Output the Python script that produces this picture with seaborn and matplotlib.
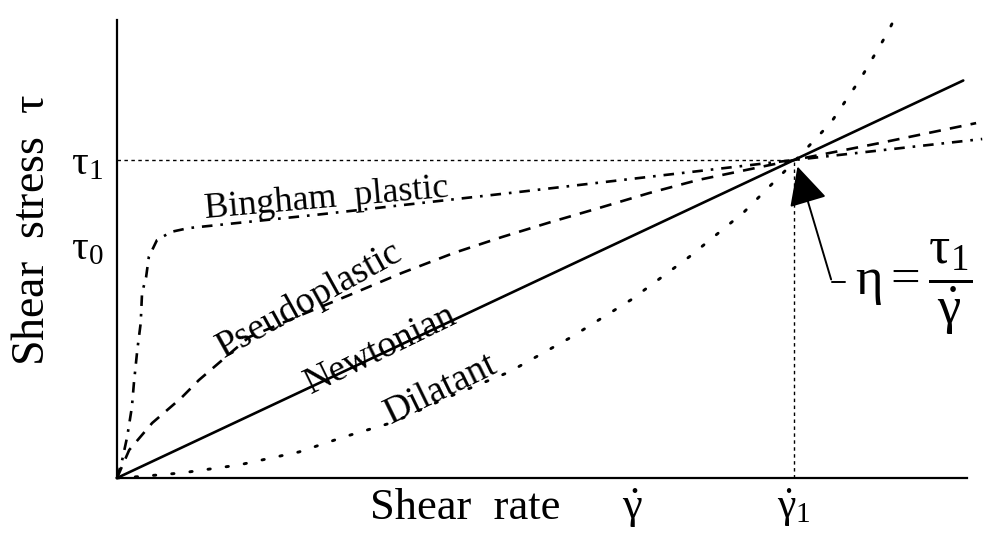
import numpy as np
import pandas as pd
import matplotlib
matplotlib.use("Agg")
import matplotlib.pyplot as plt
import seaborn as sns

# %% values read off the schematic (x in units of gamma_1, y in units of tau_1)

gamma1 = 1.0
tau1 = 1.0
tau0 = 0.735

newton_x = [0.0, 1.25]
newton_y = [0.0, 1.25]

pseudo_x = [0.0, 0.018, 0.052, 0.095, 0.121, 0.195, 0.269, 0.343, 0.421, 0.498,
            0.569, 0.641, 0.712, 0.786, 0.858, 1.0, 1.126, 1.269]
pseudo_y = [0.0, 0.088, 0.173, 0.252, 0.308, 0.443, 0.51, 0.575, 0.645, 0.708,
            0.758, 0.805, 0.849, 0.896, 0.937, 1.0, 1.053, 1.116]

bingham_x = [0.0, 0.007, 0.015, 0.022, 0.025, 0.030, 0.035, 0.037, 0.043, 0.047,
             0.059, 0.080, 0.106, 0.3, 0.6, 1.0, 1.278]
bingham_y = [0.0, 0.05, 0.129, 0.223, 0.299, 0.403, 0.487, 0.582, 0.632, 0.695,
             0.748, 0.774, 0.786, 0.829, 0.901, 1.0, 1.066]

dilat_x = [0.0, 0.03, 0.096, 0.180, 0.269, 0.335, 0.409, 0.490, 0.579, 0.671,
           0.759, 0.845, 0.926, 1.0, 1.055, 1.099, 1.139, 1.151]
dilat_y = [0.0, 0.004, 0.016, 0.041, 0.082, 0.129, 0.176, 0.255, 0.333, 0.443,
           0.560, 0.695, 0.836, 0.994, 1.119, 1.258, 1.403, 1.456]

curve_names = ["Newtonian", "Pseudoplastic", "Bingham  plastic", "Dilatant"]

# %% style

sns.set_theme(style="white")
plt.rcParams["font.family"] = ["Liberation Serif", "DejaVu Serif"]
plt.rcParams["mathtext.fontset"] = "custom"
plt.rcParams["mathtext.rm"] = "Liberation Serif"
plt.rcParams["mathtext.it"] = "Liberation Serif"
plt.rcParams["mathtext.bf"] = "Liberation Serif:bold"
plt.rcParams["mathtext.default"] = "regular"
plt.rcParams["text.color"] = "black"

fig = plt.figure(figsize=(9.94, 5.37), dpi=100)
W, H = 994, 537
ax = fig.add_axes([117 / W, (H - 478) / H, (967 - 117) / W, (478 - 20) / H])

lw = 1.9
sns.lineplot(x=newton_x, y=newton_y, ax=ax, color="black", lw=lw, sort=False,
             estimator=None, clip_on=False)
sns.lineplot(x=pseudo_x, y=pseudo_y, ax=ax, color="black", lw=lw, sort=False,
             estimator=None, linestyle=(0, (4.5, 3.5)), clip_on=False)
sns.lineplot(x=bingham_x, y=bingham_y, ax=ax, color="black", lw=lw, sort=False,
             estimator=None, linestyle=(0, (4, 3, 1, 3)), clip_on=False)
sns.lineplot(x=dilat_x, y=dilat_y, ax=ax, color="black", lw=lw * 1.1, sort=False,
             estimator=None, linestyle=(0, (0.8, 5.5)), clip_on=False,
             dash_capstyle="round")

# dotted guides to gamma_1 / tau_1
ax.hlines(tau1, 0, gamma1, color="black", lw=1.0, linestyle=(0, (2.5, 2.5)))
ax.vlines(gamma1, 0, tau1, color="black", lw=1.0, linestyle=(0, (2.5, 2.5)))

ax.set_xlim(0, 850 / 677)
ax.set_ylim(0, 458 / 318)

for s in ["top", "right"]:
    ax.spines[s].set_visible(False)
for s in ["left", "bottom"]:
    ax.spines[s].set_color("black")
    ax.spines[s].set_linewidth(1.6)

ax.set_yticks([tau0, tau1])
ax.set_yticklabels([r"$\tau_0$", r"$\tau_1$"], fontsize=30)
ax.set_xticks([gamma1])
ax.set_xticklabels([r"$\dot{\gamma}_1$"], fontsize=30)
ax.tick_params(axis="y", direction="in", length=8, width=1.4, pad=10, colors="black")
ax.tick_params(axis="x", direction="in", length=0, pad=6, colors="black")

# axis titles
ax.text(-0.124, 0.78, r"Shear  stress  $\tau$", rotation=90, fontsize=33,
        ha="center", va="center", clip_on=False)
ax.text(0.514, -0.094, "Shear  rate", fontsize=32, ha="center", va="center",
        clip_on=False)
ax.text(0.761, -0.094, r"$\dot{\gamma}$", fontsize=32, ha="center", va="center",
        clip_on=False)

# curve names along the lines
ax.text(0.310, 0.878, curve_names[2], rotation=5, fontsize=26, ha="center", va="center")
ax.text(0.285, 0.560, curve_names[1], rotation=29, fontsize=27, ha="center", va="center")
ax.text(0.390, 0.405, curve_names[0], rotation=26, fontsize=27, ha="center", va="center")
ax.text(0.478, 0.280, curve_names[3], rotation=26, fontsize=27, ha="center", va="center")

# viscosity annotation
ax.annotate("", xy=(1.004, 0.988), xytext=(1.056, 0.616),
            arrowprops=dict(arrowstyle="-|>,head_length=1.1,head_width=0.55",
                            color="black", lw=1.4, mutation_scale=22),
            annotation_clip=False)
ax.plot([1.056, 1.075], [0.616, 0.616], color="black", lw=1.4, clip_on=False)
ax.text(1.177, 0.60, r"$\eta = \dfrac{\tau_1}{\dot{\gamma}}$", fontsize=38,
        ha="center", va="center", clip_on=False)

fig.savefig("out.png", dpi=100, facecolor="white")
